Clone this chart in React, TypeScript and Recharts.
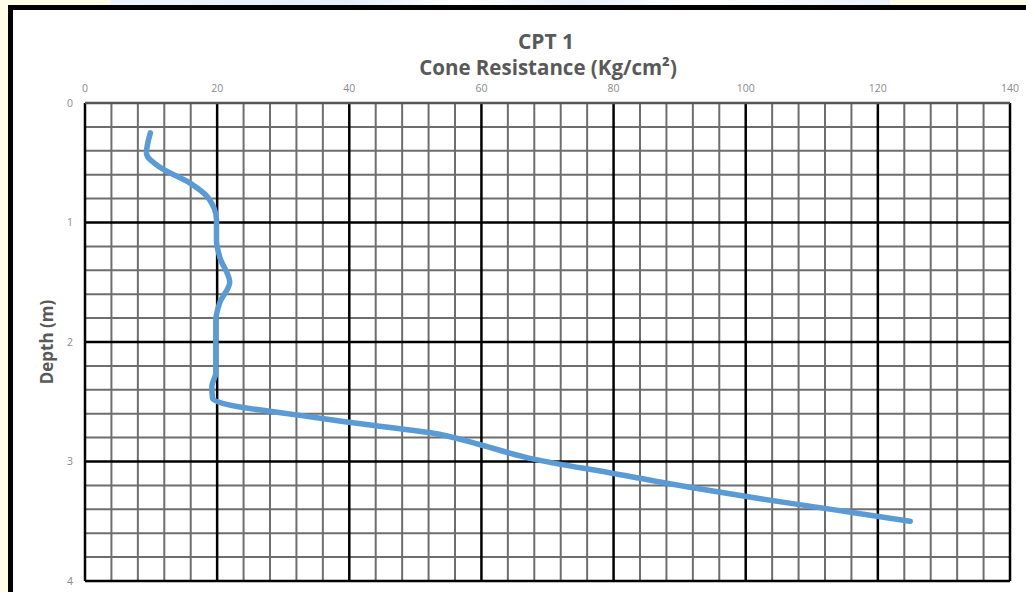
import React from "react";
import { LineChart, Line, XAxis, YAxis, ReferenceLine } from "recharts";

const depthValues = [0.25, 0.42, 0.54, 0.67, 0.79, 0.98, 1.15, 1.29, 1.5, 1.67, 1.82, 2.26, 2.37, 2.47, 2.54, 2.58, 2.61, 2.67, 2.76, 2.86, 2.98, 3.1, 3.22, 3.31, 3.39, 3.5];
const coneValues = [9.9, 9.3, 11.4, 15.9, 18.6, 19.9, 19.9, 20.4, 21.9, 20.4, 19.8, 19.8, 19.2, 19.3, 23, 28, 32, 39.6, 52.3, 59.8, 67.9, 80, 92, 102, 111.7, 124.9];

const xTicks = [0, 20, 40, 60, 80, 100, 120, 140];
const yTicks = [0, 1, 2, 3, 4];
const xMinor = [4, 8, 12, 16, 24, 28, 32, 36, 44, 48, 52, 56, 64, 68, 72, 76, 84, 88, 92, 96, 104, 108, 112, 116, 124, 128, 132, 136];
const yMinor = [0.2, 0.4, 0.6, 0.8, 1.2, 1.4, 1.6, 1.8, 2.2, 2.4, 2.6, 2.8, 3.2, 3.4, 3.6, 3.8];

const data = depthValues.map((d, i) => ({ depth: d, qc: coneValues[i] }));

const FONT = "'Open Sans', 'Liberation Sans', sans-serif";

export default function App() {
  return (
    <div style={{ position: "absolute", left: 0, top: 0, width: 1026, height: 592, overflow: "hidden", background: "#fffde6" }}>
      <div style={{ position: "absolute", left: 110, top: 0, width: 780, height: 6, background: "linear-gradient(90deg, #eef5fd, #e4eefb 30%, #ffffff 45%, #e8f1fc 60%, #ffffff 75%, #eaf2fc)" }} />
      <div style={{ position: "absolute", left: 8, top: 5, width: 1200, height: 800, border: "5px solid #000", background: "#fff" }} />
      <div style={{ position: "absolute", left: 0, top: 0 }}>
        <LineChart
          width={1026}
          height={592}
          data={data}
          layout="vertical"
          margin={{ top: 83, right: 16, bottom: 11, left: 65 }}
        >
          <XAxis
            type="number"
            dataKey="qc"
            orientation="top"
            domain={[0, 140]}
            ticks={xTicks}
            height={20}
            axisLine={false}
            tickLine={false}
            tickSize={0}
            tickMargin={11}
            tick={{ fill: "#8a8a8a", fontSize: 10.5, fontFamily: FONT }}
          />
          <YAxis
            type="number"
            dataKey="depth"
            domain={[0, 4]}
            ticks={yTicks}
            width={20}
            axisLine={false}
            tickLine={false}
            tickSize={0}
            tickMargin={12}
            tick={{ fill: "#8a8a8a", fontSize: 10.5, fontFamily: FONT }}
          />
          {xMinor.map((v) => (
            <ReferenceLine key={"xm" + v} x={v} stroke="#6e6e6e" strokeWidth={2} />
          ))}
          {yMinor.map((v) => (
            <ReferenceLine key={"ym" + v} y={v} stroke="#6e6e6e" strokeWidth={2} />
          ))}
          {xTicks.map((v) => (
            <ReferenceLine key={"xM" + v} x={v} stroke="#000" strokeWidth={2.5} />
          ))}
          {yTicks.map((v) => (
            <ReferenceLine key={"yM" + v} y={v} stroke={v === 0 ? "#555" : "#000"} strokeWidth={2.5} />
          ))}
          <Line
            type="monotone"
            dataKey="qc"
            stroke="#5b9bd5"
            strokeWidth={5.5}
            strokeLinecap="round"
            dot={false}
            isAnimationActive={false}
          />
        </LineChart>
      </div>
      <div style={{ position: "absolute", left: 546, top: 31, transform: "translateX(-50%)", fontFamily: FONT, fontWeight: 700, fontSize: 21, color: "#595959", lineHeight: "21px", whiteSpace: "nowrap" }}>
        CPT 1
      </div>
      <div style={{ position: "absolute", left: 548, top: 57, transform: "translateX(-50%)", fontFamily: FONT, fontWeight: 700, fontSize: 20.5, color: "#595959", lineHeight: "21px", whiteSpace: "nowrap" }}>
        Cone Resistance (Kg/cm²)
      </div>
      <div style={{ position: "absolute", left: 46, top: 342, transform: "translate(-50%, -50%) rotate(-90deg)", fontFamily: FONT, fontWeight: 700, fontSize: 17, color: "#595959", whiteSpace: "nowrap" }}>
        Depth (m)
      </div>
    </div>
  );
}
